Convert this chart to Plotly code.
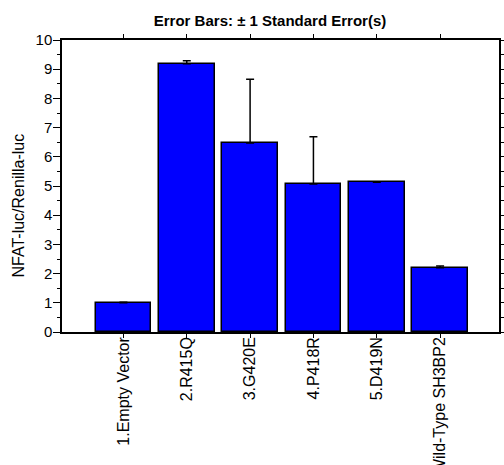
import plotly.graph_objects as go

categories = ["1.Empty Vector", "2.R415Q", "3.G420E", "4.P418R", "5.D419N", "Wild-Type SH3BP2"]
values = [1.0, 9.19, 6.47, 5.07, 5.13, 2.2]
errors = [0.02, 0.1, 2.19, 1.62, 0.0, 0.06]
y_ticks = [0, 1, 2, 3, 4, 5, 6, 7, 8, 9, 10]

font = "Liberation Sans, Arial, sans-serif"
x = list(range(len(categories)))

fig = go.Figure()
fig.add_trace(go.Bar(
    x=x, y=values, width=0.88,
    marker=dict(color="#0000FF", line=dict(color="black", width=1.5)),
    error_y=dict(type="data", symmetric=False, array=errors, arrayminus=[0]*len(errors),
                 color="black", thickness=1.5, width=4),
    showlegend=False,
))
fig.add_trace(go.Scatter(x=[0], y=[0], yaxis="y2", mode="markers",
                         marker=dict(opacity=0), showlegend=False, hoverinfo="skip"))

fig.update_layout(
    width=504, height=465,
    margin=dict(l=62, r=5, t=40, b=133),
    paper_bgcolor="white", plot_bgcolor="white",
    font=dict(family=font, size=15, color="black"),
    title=dict(text="<b>Error Bars: ± 1 Standard Error(s)</b>", font=dict(size=15),
               x=(270 - 62) / 437, xref="paper", xanchor="center", y=1 - 21/465, yref="container", yanchor="middle"),
    bargap=0,
    xaxis=dict(
        range=[-0.97, 5.93], tickmode="array", tickvals=x, ticktext=categories,
        tickangle=-90, ticks="outside", ticklen=4, tickwidth=1, tickcolor="black",
        showline=True, linecolor="black", linewidth=1.5, mirror="ticks",
        showgrid=False, zeroline=False, automargin=False,
        tickfont=dict(size=16), ticklabelstandoff=-7,
    ),
    yaxis=dict(
        range=[0, 10], tickmode="array", tickvals=y_ticks,
        ticks="outside", ticklen=7, tickwidth=1, tickcolor="black",
        minor=dict(dtick=0.5, ticks="outside", ticklen=3, tickcolor="black", showgrid=False),
        showline=True, linecolor="black", linewidth=1.5,
        showgrid=False, zeroline=False, automargin=False,
        tickfont=dict(size=15), ticklabelstandoff=-2,
    ),
    yaxis2=dict(
        overlaying="y", side="right", range=[0, 10], dtick=0.5,
        ticks="outside", ticklen=4, tickwidth=1, tickcolor="black",
        showticklabels=False, showline=True, linecolor="black", linewidth=1.5,
        showgrid=False, zeroline=False, automargin=False,
    ),
    annotations=[dict(
        text="NFAT-luc/Renilla-luc", textangle=-90, showarrow=False,
        xref="paper", yref="paper", x=(17.5 - 62) / 437, y=(332 - 206) / 292,
        xanchor="center", yanchor="middle", font=dict(size=16),
    )],
)

fig.write_html("out.html", config={"displayModeBar": False},
               post_script="document.body.style.margin='0';document.body.style.overflow='hidden';")
